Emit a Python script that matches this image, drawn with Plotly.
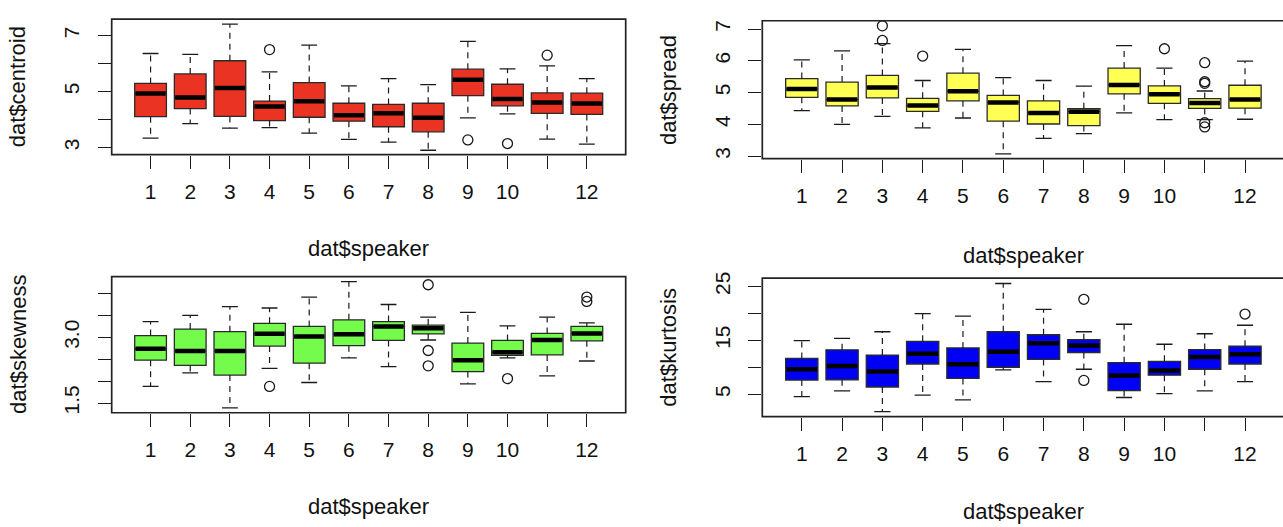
import plotly.graph_objects as go

W, H = 1283, 527

speakers = list(range(1, 13))
tick_text = ["1", "2", "3", "4", "5", "6", "7", "8", "9", "10", "", "12"]

# ---- centroid ----
cen_lo  = [3.33, 3.85, 3.69, 3.71, 3.51, 3.29, 3.19, 2.90, 4.06, 4.20, 3.30, 3.12]
cen_q1  = [4.10, 4.39, 4.11, 3.96, 4.08, 3.94, 3.74, 3.56, 4.85, 4.49, 4.22, 4.18]
cen_med = [4.93, 4.79, 5.13, 4.46, 4.65, 4.15, 4.22, 4.06, 5.42, 4.73, 4.61, 4.57]
cen_q3  = [5.29, 5.63, 6.10, 4.66, 5.32, 4.58, 4.54, 4.58, 5.80, 5.26, 4.95, 4.94]
cen_hi  = [6.36, 6.33, 7.41, 5.70, 6.66, 5.20, 5.46, 5.25, 6.79, 5.81, 5.92, 5.46]
cen_out_x = [4, 9, 10, 11]
cen_out_y = [6.50, 3.27, 3.14, 6.30]

# ---- spread ----
spr_lo  = [4.43, 4.00, 4.25, 3.89, 4.20, 3.07, 3.56, 3.71, 4.36, 4.15, 4.15, 4.16]
spr_q1  = [4.85, 4.58, 4.83, 4.41, 4.74, 4.10, 4.01, 3.96, 4.96, 4.66, 4.50, 4.51]
spr_med = [5.11, 4.78, 5.16, 4.59, 5.04, 4.69, 4.36, 4.40, 5.24, 4.95, 4.67, 4.78]
spr_q3  = [5.44, 5.33, 5.54, 4.82, 5.61, 4.91, 4.74, 4.49, 5.77, 5.21, 4.81, 5.23]
spr_hi  = [6.03, 6.31, 6.54, 5.38, 6.36, 5.47, 5.38, 5.20, 6.48, 5.77, 5.05, 5.99]
spr_out_x = [3, 3, 4, 10, 11, 11, 11, 11, 11]
spr_out_y = [7.10, 6.64, 6.15, 6.38, 5.94, 5.34, 5.29, 4.05, 3.92]

# ---- skewness ----
skw_lo  = [1.88, 2.19, 1.39, 2.29, 1.97, 2.53, 2.33, 2.94, 1.94, 2.53, 2.12, 2.46]
skw_q1  = [2.48, 2.36, 2.14, 2.80, 2.41, 2.81, 2.93, 3.08, 2.22, 2.59, 2.60, 2.92]
skw_med = [2.74, 2.69, 2.69, 3.08, 3.02, 3.07, 3.25, 3.21, 2.48, 2.66, 2.94, 3.09]
skw_q3  = [3.04, 3.19, 3.13, 3.32, 3.25, 3.40, 3.36, 3.28, 2.87, 2.93, 3.09, 3.25]
skw_hi  = [3.36, 3.50, 3.70, 3.67, 3.92, 4.27, 3.75, 3.46, 3.57, 3.26, 3.46, 3.33]
skw_out_x = [4, 8, 8, 8, 10, 12, 12]
skw_out_y = [1.88, 4.20, 2.70, 2.35, 2.06, 3.92, 3.82]

# ---- kurtosis ----
kur_lo  = [4.57, 5.61, 1.77, 4.82, 3.96, 9.51, 7.32, 9.63, 4.39, 5.12, 5.61, 7.32]
kur_q1  = [7.62, 7.68, 6.34, 10.61, 7.93, 10.00, 11.46, 12.74, 5.67, 8.54, 9.63, 10.61]
kur_med = [9.63, 10.24, 9.21, 12.50, 10.55, 12.87, 14.45, 14.02, 8.48, 9.39, 11.89, 12.44]
kur_q3  = [11.65, 13.23, 12.26, 14.82, 13.60, 16.59, 16.04, 15.12, 10.85, 11.10, 13.29, 13.90]
kur_hi  = [14.94, 15.37, 16.59, 19.94, 19.51, 25.55, 20.73, 16.59, 17.99, 14.27, 16.22, 17.80]
kur_out_x = [8, 8, 12]
kur_out_y = [22.62, 7.56, 19.88]

FONT = "Liberation Sans, Arial, Helvetica, sans-serif"
INK = "#1a1a1a"
BOXW = 0.8
CAPW = 0.4

panels = [
    dict(name="centroid", lo=cen_lo, q1=cen_q1, med=cen_med, q3=cen_q3, hi=cen_hi,
         ox=cen_out_x, oy=cen_out_y, color="#EA3323",
         px=(111.7, 625.7), py=(13.3, 151.0), xr=[0.02, 12.98], yr=[2.74, 7.59],
         yt=[3, 4, 5, 6, 7], ytt=["3", "", "5", "", "7"],
         ytitle="dat$centroid", ytx=18.3, xty=246.7),
    dict(name="spread", lo=spr_lo, q1=spr_q1, med=spr_med, q3=spr_q3, hi=spr_hi,
         ox=spr_out_x, oy=spr_out_y, color="#FFFF54",
         px=(762.3, 1284.5), py=(15.0, 155.0), xr=[0.02, 12.98], yr=[2.92, 7.26],
         yt=[3, 4, 5, 6, 7], ytt=["3", "4", "5", "6", "7"],
         ytitle="dat$spread", ytx=668.3, xty=253.3),
    dict(name="skewness", lo=skw_lo, q1=skw_q1, med=skw_med, q3=skw_q3, hi=skw_hi,
         ox=skw_out_x, oy=skw_out_y, color="#75FB4C",
         px=(111.7, 625.7), py=(274.7, 413.0), xr=[0.02, 12.98], yr=[1.28, 4.388],
         yt=[1.5, 2.0, 2.5, 3.0, 3.5, 4.0], ytt=["1.5", "", "", "3.0", "", ""],
         ytitle="dat$skewness", ytx=18.3, xty=508.0),
    dict(name="kurtosis", lo=kur_lo, q1=kur_q1, med=kur_med, q3=kur_q3, hi=kur_hi,
         ox=kur_out_x, oy=kur_out_y, color="#0000F5",
         px=(762.3, 1284.5), py=(276.3, 417.0), xr=[0.02, 12.98], yr=[0.83, 26.55],
         yt=[5, 10, 15, 20, 25], ytt=["5", "", "15", "", "25"],
         ytitle="dat$kurtosis", ytx=668.3, xty=513.0),
]

fig = go.Figure()
shapes = []
annotations = []

for k, p in enumerate(panels):
    sfx = "" if k == 0 else str(k + 1)
    xa, ya = "x" + sfx, "y" + sfx
    x0p, x1p = p["px"]
    y0p, y1p = p["py"]
    # clip the domain to the page, keep scale by adjusting range
    x1c = min(x1p, W)
    upp = (p["xr"][1] - p["xr"][0]) / (x1p - x0p)
    xr = [p["xr"][0], p["xr"][0] + (x1c - x0p) * upp]

    wx, wy = [], []
    cx, cy = [], []
    mx, my = [], []
    for i, s in enumerate(speakers):
        wx += [s, s, None, s, s, None]
        wy += [p["q3"][i], p["hi"][i], None, p["q1"][i], p["lo"][i], None]
        cx += [s - CAPW / 2, s + CAPW / 2, None, s - CAPW / 2, s + CAPW / 2, None]
        cy += [p["hi"][i], p["hi"][i], None, p["lo"][i], p["lo"][i], None]
        mx += [s - BOXW / 2 + 0.02, s + BOXW / 2 - 0.02, None]
        my += [p["med"][i], p["med"][i], None]

    fig.add_trace(go.Scatter(x=wx, y=wy, mode="lines", xaxis=xa, yaxis=ya,
                             line=dict(color=INK, width=1.2, dash="6px,5px"),
                             hoverinfo="skip", showlegend=False))
    fig.add_trace(go.Scatter(x=cx, y=cy, mode="lines", xaxis=xa, yaxis=ya,
                             line=dict(color=INK, width=1.3),
                             hoverinfo="skip", showlegend=False))
    fig.add_trace(go.Box(x=speakers, q1=p["q1"], median=p["med"], q3=p["q3"],
                         lowerfence=p["q1"], upperfence=p["q3"],
                         width=BOXW, boxpoints=False, xaxis=xa, yaxis=ya,
                         fillcolor=p["color"], line=dict(color="#2a2a2a", width=1.3),
                         whiskerwidth=0, showlegend=False, name=p["name"]))
    fig.add_trace(go.Scatter(x=mx, y=my, mode="lines", xaxis=xa, yaxis=ya,
                             line=dict(color="#000000", width=4.5),
                             hoverinfo="skip", showlegend=False))
    fig.add_trace(go.Scatter(x=p["ox"], y=p["oy"], mode="markers", xaxis=xa, yaxis=ya,
                             marker=dict(symbol="circle-open", size=10,
                                         color=INK, line=dict(width=1.3)),
                             hoverinfo="skip", showlegend=False))

    xdom = [x0p / W, x1c / W]
    ydom = [1 - y1p / H, 1 - y0p / H]
    axcommon = dict(showgrid=False, zeroline=False, showline=False,
                    ticks="outside", ticklen=13, tickwidth=1.3, tickcolor=INK,
                    tickfont=dict(family=FONT, size=21, color="#111"))
    fig.update_layout(**{
        ("xaxis" + sfx): dict(domain=xdom, range=xr, anchor=ya,
                              tickmode="array", tickvals=speakers, ticktext=tick_text,
                              ticklabelstandoff=5, **axcommon),
        ("yaxis" + sfx): dict(domain=ydom, range=p["yr"], anchor=xa,
                              tickmode="array", tickvals=p["yt"], ticktext=p["ytt"],
                              tickangle=-90, ticklabelstandoff=10, **axcommon),
    })
    shapes.append(dict(type="rect", xref="paper", yref="paper",
                       x0=x0p / W, x1=x1p / W, y0=1 - y1p / H, y1=1 - y0p / H,
                       line=dict(color="#222", width=1.7), layer="above"))
    annotations.append(dict(text=p["ytitle"], xref="paper", yref="paper",
                            x=p["ytx"] / W, y=1 - (y0p + y1p) / 2 / H,
                            textangle=-90, showarrow=False, xanchor="center",
                            yanchor="middle", font=dict(family=FONT, size=22, color="#111")))
    annotations.append(dict(text="dat$speaker", xref="paper", yref="paper",
                            x=(x0p + x1p) / 2 / W, y=1 - p["xty"] / H,
                            showarrow=False, xanchor="center", yanchor="middle",
                            font=dict(family=FONT, size=22, color="#111")))

fig.update_layout(width=W, height=H, margin=dict(l=0, r=0, t=0, b=0),
                  paper_bgcolor="white", plot_bgcolor="white",
                  shapes=shapes, annotations=annotations, showlegend=False)

fig.write_html("out.html")
